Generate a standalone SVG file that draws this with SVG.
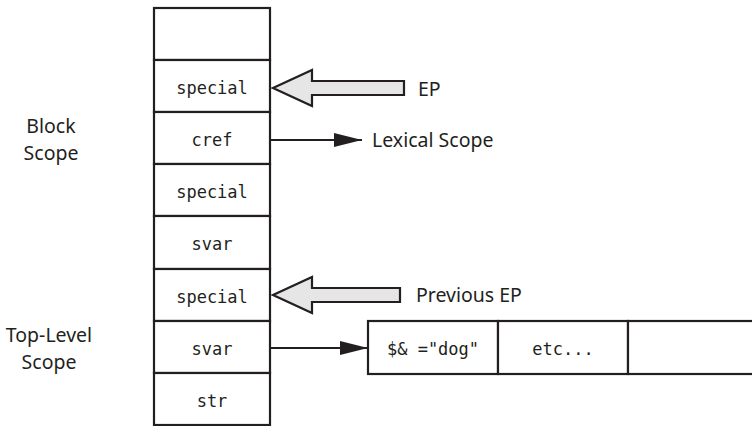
<svg xmlns="http://www.w3.org/2000/svg" width="752" height="426" viewBox="0 0 752 426">
<defs>
<style>
.cell{fill:#fff;stroke:#231f20;stroke-width:2.2}
.mono{font-family:"DejaVu Sans Mono","Liberation Mono",monospace;font-size:17px;fill:#231f20;text-anchor:middle}
.lbl{font-family:"Noto Sans","Liberation Sans",sans-serif;font-size:19.5px;fill:#231f20}
.hollow{fill:#e6e6e6;stroke:#231f20;stroke-width:2.2;stroke-linejoin:miter}
.line{stroke:#231f20;stroke-width:2;fill:none}
</style>
<marker id="ah" markerWidth="28" markerHeight="14" refX="28" refY="7" orient="auto" markerUnits="userSpaceOnUse">
<path d="M0,0 L28,7 L0,14 Z" fill="#231f20"/>
</marker>
</defs>
<g id="stack">
<rect class="cell" x="154" y="8" width="116" height="52"/>
<g id="n-special1"><rect class="cell" x="154" y="60" width="116" height="52"/><text class="mono" x="212" y="94">special</text></g>
<g id="n-cref"><rect class="cell" x="154" y="112" width="116" height="52"/><text class="mono" x="212" y="146">cref</text></g>
<g id="n-special2"><rect class="cell" x="154" y="164" width="116" height="52"/><text class="mono" x="212" y="198">special</text></g>
<g id="n-svar1"><rect class="cell" x="154" y="216" width="116" height="53"/><text class="mono" x="212" y="250">svar</text></g>
<g id="n-special3"><rect class="cell" x="154" y="269" width="116" height="52"/><text class="mono" x="212" y="303">special</text></g>
<g id="n-svar2"><rect class="cell" x="154" y="321" width="116" height="52"/><text class="mono" x="212" y="355">svar</text></g>
<g id="n-str"><rect class="cell" x="154" y="373" width="116" height="52"/><text class="mono" x="212" y="407">str</text></g>
</g>
<g id="n-values">
<rect class="cell" x="368" y="321" width="130" height="53"/>
<text class="mono" x="433" y="355">$&amp; ="dog"</text>
<rect class="cell" x="498" y="321" width="130" height="53"/>
<text class="mono" x="563" y="355">etc...</text>
<rect class="cell" x="628" y="321" width="130" height="53"/>
</g>
<g id="labels">
<text class="lbl" x="51" y="133" text-anchor="middle">Block</text>
<text class="lbl" x="51" y="160" text-anchor="middle">Scope</text>
<text class="lbl" x="49" y="342" text-anchor="middle">Top-Level</text>
<text class="lbl" x="49" y="369" text-anchor="middle">Scope</text>
<text class="lbl" x="418" y="96">EP</text>
<text class="lbl" x="372" y="147">Lexical Scope</text>
<text class="lbl" x="416" y="302">Previous EP</text>
</g>
<g id="connectors">
<path class="hollow" d="M273,88 L312,70 L312,81 L404,81 L404,95 L312,95 L312,106 Z"/>
<path class="hollow" d="M273,295 L312,277 L312,288 L400,288 L400,302 L312,302 L312,313 Z"/>
<line class="line" x1="270" y1="140" x2="362" y2="140" marker-end="url(#ah)"/>
<line class="line" x1="270" y1="348" x2="368" y2="348" marker-end="url(#ah)"/>
</g>
</svg>
